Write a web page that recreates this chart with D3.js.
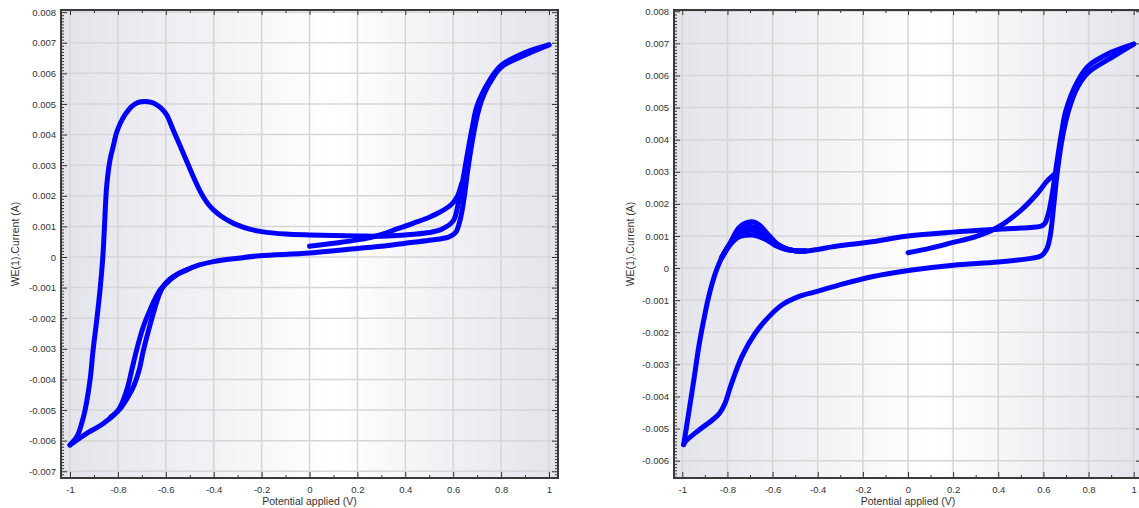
<!DOCTYPE html>
<html>
<head>
<meta charset="utf-8">
<script src="https://cdn.jsdelivr.net/npm/d3@7"></script>
<style>
  body { margin: 0; background: #fff; }
  svg { display: block; font-family: "Liberation Sans", Arial, sans-serif; }
</style>
</head>
<body>
<svg width="1139" height="508"></svg>
<script>
// ---- data: [potential (V), current (A)] ----

// left panel
const leftStart = [[0, 0.00035], [0.1, 0.00045], [0.2, 0.00056], [0.294, 0.00072], [0.36, 0.0009],
  [0.432, 0.0011], [0.5, 0.0013], [0.545, 0.00147], [0.59, 0.0017], [0.616, 0.00196], [0.635, 0.0024]];

const leftUpper = [[-1.0, -0.00614], [-0.97, -0.00585], [-0.95, -0.0054], [-0.937, -0.005], [-0.916, -0.004],
  [-0.903, -0.003], [-0.889, -0.0021], [-0.875, -0.0011], [-0.863, 0.0], [-0.856, 0.001], [-0.847, 0.0023],
  [-0.833, 0.00317], [-0.82, 0.0036], [-0.806, 0.00405], [-0.79, 0.00437], [-0.77, 0.00465], [-0.745, 0.0049],
  [-0.715, 0.00505], [-0.687, 0.00508], [-0.66, 0.00505], [-0.638, 0.00497], [-0.615, 0.00483], [-0.596, 0.00464],
  [-0.569, 0.00415], [-0.527, 0.00339], [-0.485, 0.00262], [-0.46, 0.0022], [-0.44, 0.00192], [-0.42, 0.0017],
  [-0.4, 0.00153], [-0.37, 0.00134], [-0.33, 0.00115], [-0.3, 0.00104], [-0.25, 0.00091], [-0.2, 0.00083],
  [-0.1, 0.00075], [0, 0.00072], [0.2, 0.00069], [0.3, 0.00068], [0.4, 0.00072], [0.5, 0.0008],
  [0.55, 0.0009], [0.6, 0.00118], [0.62, 0.0017], [0.64, 0.0025], [0.66, 0.0034], [0.68, 0.00425],
  [0.7, 0.00495], [0.75, 0.00575], [0.8, 0.00626], [0.9, 0.00668], [1.0, 0.00693]];

const leftReverse = [[1.0, 0.00693], [0.9, 0.0066], [0.8, 0.0062], [0.75, 0.00565], [0.72, 0.00515],
  [0.7, 0.0046], [0.68, 0.0038], [0.66, 0.0028], [0.645, 0.0019], [0.63, 0.00125], [0.61, 0.0008],
  [0.58, 0.00065], [0.5, 0.00055], [0.4, 0.00045], [0.3, 0.00035], [0.2, 0.00028], [0, 0.00013],
  [-0.207, 0.00004], [-0.3, -0.00004], [-0.402, -0.00015], [-0.46, -0.00026], [-0.513, -0.00042],
  [-0.55, -0.00056], [-0.582, -0.00075], [-0.624, -0.00108], [-0.666, -0.00173], [-0.694, -0.00228],
  [-0.722, -0.00304], [-0.742, -0.00369], [-0.763, -0.00435], [-0.798, -0.005], [-0.861, -0.00544],
  [-0.93, -0.00576], [-1.0, -0.00614]];

const leftReverse2 = [[-0.513, -0.00042], [-0.55, -0.00055], [-0.58, -0.0007], [-0.605, -0.0009],
  [-0.625, -0.00118], [-0.645, -0.00165], [-0.672, -0.0024], [-0.695, -0.0031], [-0.711, -0.00369],
  [-0.733, -0.0042], [-0.757, -0.00456], [-0.79, -0.00495], [-0.83, -0.00523]];

// right panel
const rightStart = [[0, 0.00048], [0.1, 0.00062], [0.2, 0.0008], [0.3, 0.00098], [0.4, 0.00128],
  [0.5, 0.0018], [0.57, 0.0023], [0.615, 0.0027], [0.645, 0.0029]];

const rightRise = [[-0.994, -0.0055], [-0.972, -0.00453], [-0.949, -0.00349], [-0.927, -0.00245],
  [-0.905, -0.00162], [-0.883, -0.00089], [-0.854, -0.00017], [-0.824, 0.00035]];

const rightPeak1 = [[-0.824, 0.00036], [-0.787, 0.0008], [-0.75, 0.00125], [-0.72, 0.0014], [-0.69, 0.00144],
  [-0.66, 0.00135], [-0.62, 0.00105], [-0.58, 0.00076], [-0.54, 0.00061], [-0.5, 0.00054], [-0.455, 0.00052]];
const rightPeak2 = [[-0.824, 0.00035], [-0.787, 0.00078], [-0.75, 0.00115], [-0.72, 0.00126], [-0.69, 0.00129],
  [-0.66, 0.00122], [-0.62, 0.00098], [-0.58, 0.00073], [-0.54, 0.0006], [-0.5, 0.00054], [-0.455, 0.00053]];
const rightPeak3 = [[-0.824, 0.00034], [-0.787, 0.00076], [-0.75, 0.00108], [-0.72, 0.00116], [-0.69, 0.00118],
  [-0.66, 0.00112], [-0.62, 0.00092], [-0.58, 0.0007], [-0.54, 0.00059], [-0.5, 0.00054], [-0.455, 0.00053]];
const rightPeak4 = [[-0.824, 0.00033], [-0.787, 0.00074], [-0.75, 0.00097], [-0.72, 0.00102], [-0.69, 0.00103],
  [-0.66, 0.00098], [-0.62, 0.00085], [-0.58, 0.00068], [-0.54, 0.00058], [-0.5, 0.00054], [-0.455, 0.00053]];

const rightFlat = [[-0.455, 0.00053], [-0.4, 0.00058], [-0.337, 0.00066], [-0.25, 0.00074], [-0.16, 0.00082],
  [0, 0.001], [0.2, 0.00112], [0.4, 0.00121], [0.5, 0.00125], [0.6, 0.00134], [0.62, 0.00165],
  [0.64, 0.00235], [0.66, 0.0033], [0.68, 0.0042], [0.7, 0.00492], [0.75, 0.0058], [0.8, 0.0063],
  [0.9, 0.00672], [1.0, 0.00698]];

const rightReverse = [[1.0, 0.00698], [0.9, 0.00655], [0.8, 0.0061], [0.75, 0.00562], [0.72, 0.0051],
  [0.7, 0.0046], [0.68, 0.0039], [0.66, 0.0029], [0.645, 0.0019], [0.63, 0.001], [0.615, 0.0006],
  [0.59, 0.00038], [0.55, 0.00031], [0.4, 0.00019], [0.2, 0.00009], [0.018, -0.00006], [-0.16, -0.00027],
  [-0.307, -0.00053], [-0.411, -0.00074], [-0.485, -0.00089], [-0.559, -0.00115], [-0.617, -0.00152],
  [-0.677, -0.00203], [-0.736, -0.00276], [-0.787, -0.0037], [-0.81, -0.0042], [-0.835, -0.00452],
  [-0.868, -0.00474], [-0.927, -0.00505], [-0.987, -0.00541], [-0.994, -0.0055]];

// axis ticks
const xTicks = [-1, -0.8, -0.6, -0.4, -0.2, 0, 0.2, 0.4, 0.6, 0.8, 1];
const xMinor = [-0.9, -0.7, -0.5, -0.3, -0.1, 0.1, 0.3, 0.5, 0.7, 0.9];
const leftYTicks = [-0.007, -0.006, -0.005, -0.004, -0.003, -0.002, -0.001, 0, 0.001, 0.002, 0.003, 0.004, 0.005, 0.006, 0.007, 0.008];
const rightYTicks = [-0.006, -0.005, -0.004, -0.003, -0.002, -0.001, 0, 0.001, 0.002, 0.003, 0.004, 0.005, 0.006, 0.007, 0.008];

const xTitle = "Potential applied (V)";
const yTitle = "WE(1).Current (A)";

const svg = d3.select("svg");
const defs = svg.append("defs");

function drawPanel(p) {
  const x = d3.scaleLinear().domain(p.xDom).range([p.x0, p.x1]);
  const y = d3.scaleLinear().domain(p.yDom).range([p.y1, p.y0]);

  // background gradient
  const grad = defs.append("linearGradient").attr("id", p.id + "-bg")
    .attr("x1", 0).attr("x2", 1).attr("y1", 0).attr("y2", 0);
  grad.append("stop").attr("offset", 0).attr("stop-color", "#e3e3eb");
  grad.append("stop").attr("offset", 0.55).attr("stop-color", "#ffffff");
  grad.append("stop").attr("offset", 1).attr("stop-color", "#e3e3eb");

  const g = svg.append("g");
  g.append("rect")
    .attr("x", p.x0).attr("y", p.y0)
    .attr("width", p.x1 - p.x0).attr("height", p.y1 - p.y0)
    .attr("fill", `url(#${p.id}-bg)`);

  // grid
  g.append("g").selectAll("line").data(xTicks).join("line")
    .attr("x1", d => x(d)).attr("x2", d => x(d))
    .attr("y1", p.y0).attr("y2", p.y1)
    .attr("stroke", "#d6d6d6").attr("stroke-width", 1.5);
  g.append("g").selectAll("line").data(p.yTicks).join("line")
    .attr("y1", d => y(d)).attr("y2", d => y(d))
    .attr("x1", p.x0).attr("x2", p.x1)
    .attr("stroke", "#d6d6d6").attr("stroke-width", 1.5);

  // curves
  const line = d3.line()
    .x(d => x(d[0])).y(d => y(d[1]))
    .curve(d3.curveCatmullRom.alpha(0.5));
  const clipId = p.id + "-clip";
  defs.append("clipPath").attr("id", clipId).append("rect")
    .attr("x", p.x0).attr("y", p.y0).attr("width", p.x1 - p.x0).attr("height", p.y1 - p.y0);
  g.append("g").attr("clip-path", `url(#${clipId})`)
    .selectAll("path").data(p.series).join("path")
    .attr("d", line)
    .attr("fill", "none")
    .attr("stroke", "#0000ff")
    .attr("stroke-width", 5)
    .attr("stroke-linejoin", "round")
    .attr("stroke-linecap", "round");

  // minor y ticks every 0.0001
  const yMinor = d3.range(Math.ceil(p.yDom[0] * 10000), Math.floor(p.yDom[1] * 10000) + 1)
    .filter(i => i % 10 !== 0).map(i => i / 10000);

  const axisStyle = sel => {
    sel.select(".domain").remove();
    sel.selectAll("line").attr("stroke", "#333").attr("stroke-width", 1);
    sel.selectAll("text").attr("fill", "#333").style("font-size", "9.5px");
  };

  g.append("g").attr("transform", `translate(${p.x0},0)`)
    .call(d3.axisLeft(y).tickValues(p.yTicks).tickSizeInner(-6).tickSizeOuter(0).tickPadding(5)
      .tickFormat(d => d === 0 ? "0" : d.toFixed(3)))
    .call(axisStyle);
  g.append("g").attr("transform", `translate(${p.x0},0)`)
    .call(d3.axisLeft(y).tickValues(yMinor).tickSize(-3).tickFormat(""))
    .call(axisStyle);
  g.append("g").attr("transform", `translate(${p.x1},0)`)
    .call(d3.axisRight(y).tickValues(p.yTicks).tickSize(-6).tickFormat(""))
    .call(axisStyle);
  g.append("g").attr("transform", `translate(${p.x1},0)`)
    .call(d3.axisRight(y).tickValues(yMinor).tickSize(-3).tickFormat(""))
    .call(axisStyle);

  g.append("g").attr("transform", `translate(0,${p.y1})`)
    .call(d3.axisBottom(x).tickValues(xTicks).tickSizeInner(-6).tickSizeOuter(0).tickPadding(8)
      .tickFormat(d => d === 0 ? "0" : String(+d.toFixed(1))))
    .call(axisStyle);
  g.append("g").attr("transform", `translate(0,${p.y1})`)
    .call(d3.axisBottom(x).tickValues(xMinor).tickSize(-3).tickFormat(""))
    .call(axisStyle);
  g.append("g").attr("transform", `translate(0,${p.y0})`)
    .call(d3.axisTop(x).tickValues(xTicks).tickSize(-5).tickFormat(""))
    .call(axisStyle);
  g.append("g").attr("transform", `translate(0,${p.y0})`)
    .call(d3.axisTop(x).tickValues(xMinor).tickSize(-3).tickFormat(""))
    .call(axisStyle);

  // frame
  g.append("rect")
    .attr("x", p.x0).attr("y", p.y0)
    .attr("width", p.x1 - p.x0).attr("height", p.y1 - p.y0)
    .attr("fill", "none").attr("stroke", "#3a3a3a").attr("stroke-width", 2);

  // titles
  g.append("text")
    .attr("x", (p.x0 + p.x1) / 2).attr("y", p.y1 + 27)
    .attr("text-anchor", "middle").attr("fill", "#333")
    .style("font-size", "10.5px").text(xTitle);
  g.append("text")
    .attr("transform", `translate(${p.yTitleX},${(p.y0 + p.y1) / 2}) rotate(-90)`)
    .attr("text-anchor", "middle").attr("fill", "#333")
    .style("font-size", "10.5px").text(yTitle);
}

drawPanel({
  id: "left", x0: 61, x1: 558, y0: 10, y1: 478,
  xDom: [-1.0376, 1.0376], yDom: [-0.00722, 0.00807],
  yTicks: leftYTicks, yTitleX: 19,
  series: [leftStart, leftUpper, leftReverse, leftReverse2]
});

drawPanel({
  id: "right", x0: 674, x1: 1142, y0: 10, y1: 478,
  xDom: [-1.0368, 1.0368], yDom: [-0.00654, 0.00804],
  yTicks: rightYTicks, yTitleX: 634,
  series: [rightStart, rightRise, rightPeak1, rightPeak2, rightPeak3, rightPeak4, rightFlat, rightReverse]
});
</script>
</body>
</html>
